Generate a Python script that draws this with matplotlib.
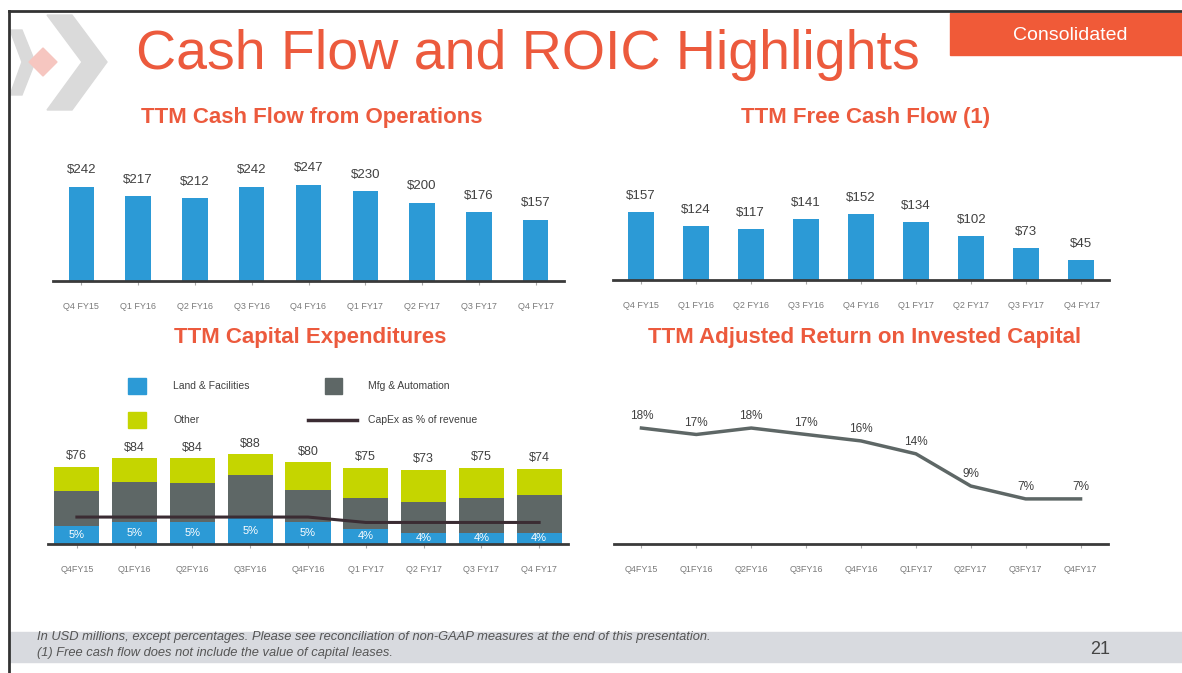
import matplotlib
matplotlib.use("Agg")
import matplotlib.pyplot as plt
from matplotlib.patches import Rectangle, Polygon

plt.rcParams['font.family'] = ['Liberation Sans', 'DejaVu Sans']

# ---- data ----
cfo_labels = ['Q4 FY15', 'Q1 FY16', 'Q2 FY16', 'Q3 FY16', 'Q4 FY16',
              'Q1 FY17', 'Q2 FY17', 'Q3 FY17', 'Q4 FY17']
cfo_values = [242, 217, 212, 242, 247, 230, 200, 176, 157]

fcf_labels = cfo_labels
fcf_values = [157, 124, 117, 141, 152, 134, 102, 73, 45]

capex_labels = ['Q4FY15', 'Q1FY16', 'Q2FY16', 'Q3FY16', 'Q4FY16',
                'Q1 FY17', 'Q2 FY17', 'Q3 FY17', 'Q4 FY17']
capex_land = [18, 22, 22, 26, 22, 15, 11, 11, 11]
capex_mfg = [34, 39, 38, 42, 31, 30, 30, 34, 37]
capex_other = [24, 23, 24, 20, 27, 30, 32, 30, 26]
capex_totals = [76, 84, 84, 88, 80, 75, 73, 75, 74]
capex_pct = [5, 5, 5, 5, 5, 4, 4, 4, 4]

roic_labels = ['Q4FY15', 'Q1FY16', 'Q2FY16', 'Q3FY16', 'Q4FY16',
               'Q1FY17', 'Q2FY17', 'Q3FY17', 'Q4FY17']
roic_values = [18, 17, 18, 17, 16, 14, 9, 7, 7]

# ---- colours ----
ORANGE = '#ec5a3d'
BLUE = '#2c9ad6'
GRAY = '#5e6766'
LIME = '#c5d500'
LINE = '#3b2c33'
TXT = '#404040'
TICK = '#7a7a7a'

W, H = 1182, 673
fig = plt.figure(figsize=(W / 100, H / 100), dpi=100)


def px_axes(l, t, r, b):
    ax = fig.add_axes([l / W, 1 - b / H, (r - l) / W, (b - t) / H])
    ax.patch.set_alpha(0)
    return ax


def style(ax, labels):
    for s in ['top', 'right', 'left']:
        ax.spines[s].set_visible(False)
    ax.spines['bottom'].set_color('#3a3a3a')
    ax.spines['bottom'].set_linewidth(2)
    ax.set_yticks([])
    ax.set_xticks(range(len(labels)))
    ax.set_xticklabels(labels)
    ax.tick_params(axis='x', length=3, color='#aaaaaa', pad=12,
                   labelsize=6.5, labelcolor=TICK)
    ax.set_xlim(-0.5, len(labels) - 0.5)


# ---- decoration layer ----
deco = fig.add_axes([0, 0, 1, 1])
deco.set_xlim(0, W)
deco.set_ylim(H, 0)
deco.axis('off')

# logo
deco.add_patch(Polygon([(47, 15), (72, 15), (107, 62), (72, 110), (47, 110), (82, 62)],
                       closed=True, color='#dadada'))
deco.add_patch(Polygon([(10, 30), (22, 30), (35, 62), (22, 95), (10, 95), (22, 62)],
                       closed=True, color='#dadada'))
deco.add_patch(Polygon([(43, 48), (57, 62), (43, 76), (29, 62)], closed=True, color='#f6c6c0'))

# frame
deco.plot([9, W], [11, 11], color='#333333', lw=2)
deco.plot([9, 9], [11, H], color='#333333', lw=2)

# consolidated box
deco.add_patch(Rectangle((950, 13), W - 950, 42, color='#f05a38'))
deco.text(1070, 35, 'Consolidated', color='white', fontsize=14, ha='center', va='center')

# title
deco.text(528, 55, 'Cash Flow and ROIC Highlights', color=ORANGE, fontsize=40,
          ha='center', va='center')

# subtitles
deco.text(312, 118, 'TTM Cash Flow from Operations', color=ORANGE, fontsize=16,
          fontweight='bold', ha='center', va='center')
deco.text(866, 118, 'TTM Free Cash Flow (1)', color=ORANGE, fontsize=16,
          fontweight='bold', ha='center', va='center')
deco.text(310, 337, 'TTM Capital Expenditures', color=ORANGE, fontsize=16,
          fontweight='bold', ha='center', va='center')
deco.text(865, 337, 'TTM Adjusted Return on Invested Capital', color=ORANGE, fontsize=16,
          fontweight='bold', ha='center', va='center')

# capex legend
deco.add_patch(Rectangle((128, 378), 18, 16, color=BLUE))
deco.text(173, 386, 'Land & Facilities', fontsize=7.5, color=TXT, va='center')
deco.add_patch(Rectangle((128, 412), 18, 16, color=LIME))
deco.text(173, 420, 'Other', fontsize=7.5, color=TXT, va='center')
deco.add_patch(Rectangle((325, 378), 17, 16, color=GRAY))
deco.text(368, 386, 'Mfg & Automation', fontsize=7.5, color=TXT, va='center')
deco.plot([308, 357], [420, 420], color=LINE, lw=2.5)
deco.text(368, 420, 'CapEx as % of revenue', fontsize=7.5, color=TXT, va='center')

# footer
deco.add_patch(Rectangle((9, 632), W - 9, 30, color='#d8dadf'))
deco.text(37, 637, 'In USD millions, except percentages. Please see reconciliation of '
          'non-GAAP measures at the end of this presentation.',
          fontsize=9.3, style='italic', color='#555555', va='center')
deco.text(37, 653, '(1) Free cash flow does not include the value of capital leases.',
          fontsize=9.3, style='italic', color='#555555', va='center')
deco.text(1100, 650, '21', fontsize=13, color='#444444', ha='center', va='center')

# ---- TTM cash flow from operations ----
ax1 = px_axes(53, 160, 564, 281)
x = range(len(cfo_values))
ax1.bar(x, cfo_values, width=0.45, color=BLUE)
ax1.set_ylim(0, 310)
style(ax1, cfo_labels)
for i, v in enumerate(cfo_values):
    ax1.annotate('$%d' % v, (i, v), xytext=(0, 12), textcoords='offset points',
                 ha='center', va='center', fontsize=9.5, color=TXT)

# ---- TTM free cash flow ----
ax2 = px_axes(613, 180, 1109, 280)
ax2.bar(x, fcf_values, width=0.47, color=BLUE)
ax2.set_ylim(0, 230)
style(ax2, fcf_labels)
for i, v in enumerate(fcf_values):
    ax2.annotate('$%d' % v, (i, v), xytext=(0, 11.5), textcoords='offset points',
                 ha='center', va='center', fontsize=9.5, color=TXT)

# ---- TTM capital expenditures ----
ax3 = px_axes(48, 440, 568, 544)
bottom2 = [a + b for a, b in zip(capex_land, capex_mfg)]
ax3.bar(x, capex_land, width=0.78, color=BLUE)
ax3.bar(x, capex_mfg, width=0.78, bottom=capex_land, color=GRAY)
ax3.bar(x, capex_other, width=0.78, bottom=bottom2, color=LIME)
ax3.set_ylim(0, 102)
style(ax3, capex_labels)
for i, v in enumerate(capex_totals):
    top = capex_land[i] + capex_mfg[i] + capex_other[i]
    ax3.annotate('$%d' % v, (i, top), xytext=(0, 7.5), textcoords='offset points',
                 ha='center', va='center', fontsize=9, color=TXT)
    ax3.text(i, capex_land[i] / 2, '%d%%' % capex_pct[i], ha='center', va='center',
             fontsize=8, color='white')
ax3b = ax3.twinx()
ax3b.plot(x, capex_pct, color=LINE, lw=2.2)
ax3b.set_ylim(0, 19.3)
ax3b.axis('off')

# ---- TTM adjusted ROIC ----
ax4 = px_axes(614, 410, 1108, 544)
ax4.plot(x, roic_values, color='#5e6766', lw=2.5)
ax4.set_ylim(0, 20.8)
style(ax4, roic_labels)
for i, v in enumerate(roic_values):
    ax4.annotate('%d%%' % v, (i, v), xytext=(0, 8.5), textcoords='offset points',
                 ha='center', va='center', fontsize=8.5, color=TXT)

fig.savefig('out.png', dpi=100)
